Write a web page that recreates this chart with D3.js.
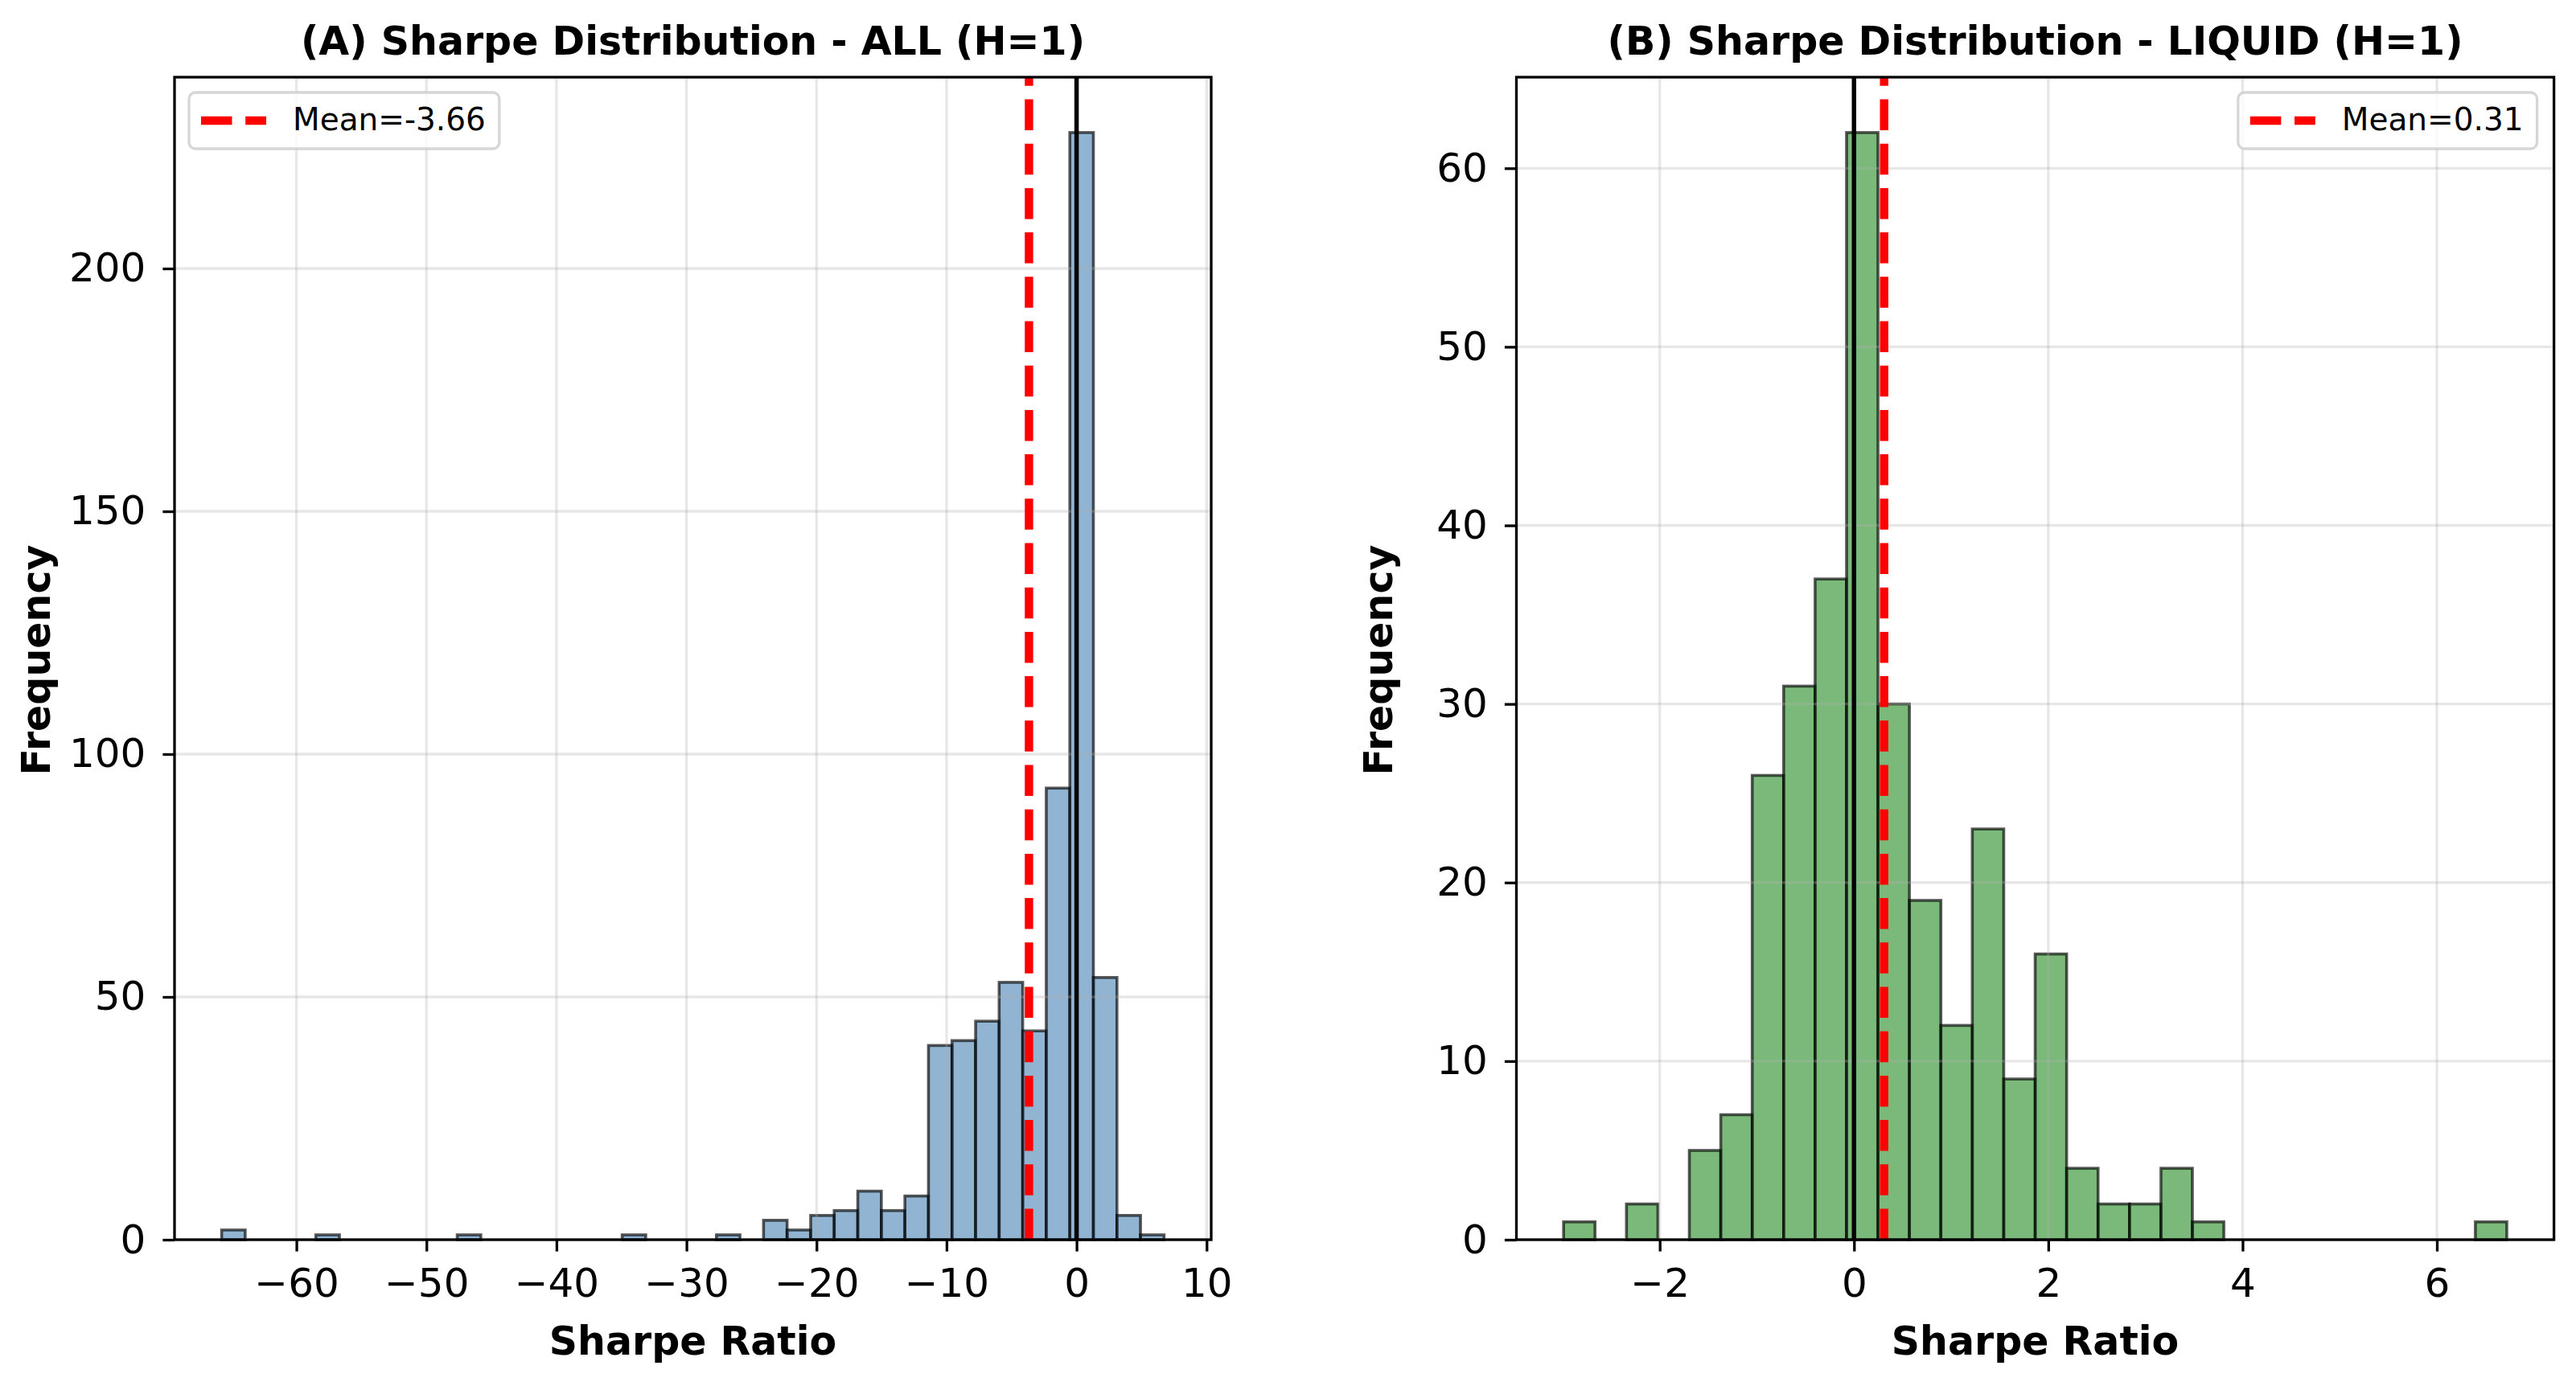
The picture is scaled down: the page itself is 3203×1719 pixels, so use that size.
<!DOCTYPE html>
<html>
<head>
<meta charset="utf-8">
<script src="https://cdn.jsdelivr.net/npm/d3@7"></script>
<style>
  html, body { margin: 0; padding: 0; background: #ffffff; }
  svg { display: block; }
</style>
</head>
<body>
<svg id="chart" width="3203" height="1719"></svg>
<script>
// ---------------- DATA ----------------
// Panel A: all assets, 40 equal-width bins
const allTitle = "(A) Sharpe Distribution - ALL (H=1)";
const allBinMin = -65.75;
const allBinMax = 6.73;
const allCounts = [2, 0, 0, 0, 1, 0, 0, 0, 0, 0, 1, 0, 0, 0, 0, 0, 0, 1, 0, 0, 0, 1, 0,
                   4, 2, 5, 6, 10, 6, 9, 40, 41, 45, 53, 43, 93, 228, 54, 5, 1];
const allMean = -3.66;
const allXTicks = [-60, -50, -40, -30, -20, -10, 0, 10];
const allYTicks = [0, 50, 100, 150, 200];

// Panel B: liquid assets, 30 equal-width bins
const liqTitle = "(B) Sharpe Distribution - LIQUID (H=1)";
const liqBinMin = -2.99;
const liqBinMax = 6.72;
const liqCounts = [1, 0, 2, 0, 5, 7, 26, 31, 37, 62, 30, 19, 12, 23, 9, 16, 4, 2, 2, 4, 1,
                   0, 0, 0, 0, 0, 0, 0, 0, 1];
const liqMean = 0.31;
const liqXTicks = [-2, 0, 2, 4, 6];
const liqYTicks = [0, 10, 20, 30, 40, 50, 60];

const xLabel = "Sharpe Ratio";
const yLabel = "Frequency";

// ---------------- DRAWING ----------------
const svg = d3.select("#chart");
const FONT = "'DejaVu Sans', 'Liberation Sans', sans-serif";

function panel(opts) {
  const { left, right, top, bottom, binMin, binMax, counts, mean, xTicks, yTicks,
          title, fill, legendSide } = opts;
  const n = counts.length;
  const bw = (binMax - binMin) / n;
  const bins = counts.map((c, i) => ({ x0: binMin + i * bw, x1: binMin + (i + 1) * bw, c }));
  const margin = (binMax - binMin) * 0.05;
  const ymax = d3.max(counts) * 1.05;

  const x = d3.scaleLinear().domain([binMin - margin, binMax + margin]).range([left, right]);
  const y = d3.scaleLinear().domain([0, ymax]).range([bottom, top]);

  const g = svg.append("g");

  // bars
  g.append("g").selectAll("rect").data(bins.filter(b => b.c > 0)).join("rect")
    .attr("x", d => x(d.x0))
    .attr("y", d => y(d.c))
    .attr("width", d => x(d.x1) - x(d.x0))
    .attr("height", d => y(0) - y(d.c))
    .attr("fill", fill)
    .attr("fill-opacity", 0.6)
    .attr("stroke", "#000")
    .attr("stroke-opacity", 0.65)
    .attr("stroke-width", 3.6);

  // grid (above bars like matplotlib default)
  const grid = g.append("g").attr("stroke", "#b0b0b0").attr("stroke-opacity", 0.3).attr("stroke-width", 3.3);
  grid.selectAll("line.gx").data(xTicks).join("line").attr("class", "gx")
    .attr("x1", d => x(d)).attr("x2", d => x(d)).attr("y1", top).attr("y2", bottom);
  grid.selectAll("line.gy").data(yTicks).join("line").attr("class", "gy")
    .attr("x1", left).attr("x2", right).attr("y1", d => y(d)).attr("y2", d => y(d));

  // zero line
  g.append("line")
    .attr("x1", x(0)).attr("x2", x(0)).attr("y1", y(0)).attr("y2", y(ymax))
    .attr("stroke", "#000").attr("stroke-width", 5.5);

  // mean line (dashed, drawn bottom->top)
  g.append("line")
    .attr("x1", x(mean)).attr("x2", x(mean)).attr("y1", y(0)).attr("y2", y(ymax))
    .attr("stroke", "#ff0000").attr("stroke-width", 10.4)
    .attr("stroke-dasharray", "38.5,16.7");

  // axes
  const xAxis = d3.axisBottom(x).tickValues(xTicks).tickSize(14.6).tickSizeOuter(0).tickPadding(21);
  const yAxis = d3.axisLeft(y).tickValues(yTicks).tickSize(14.6).tickSizeOuter(0).tickPadding(21);
  const gx = g.append("g").attr("transform", `translate(0,${bottom})`).call(xAxis);
  const gy = g.append("g").attr("transform", `translate(${left},0)`).call(yAxis);
  [gx, gy].forEach(a => {
    a.select(".domain").remove();
    a.selectAll(".tick line").attr("stroke", "#000").attr("stroke-width", 3.3);
    a.selectAll(".tick text").attr("fill", "#000").style("font-family", FONT).style("font-size", "50px");
  });

  // frame (spines)
  g.append("rect")
    .attr("x", left).attr("y", top).attr("width", right - left).attr("height", bottom - top)
    .attr("fill", "none").attr("stroke", "#000").attr("stroke-width", 3.3);

  const cx = (left + right) / 2;
  // title
  g.append("text").attr("x", cx).attr("y", 68).attr("text-anchor", "middle")
    .style("font-family", FONT).style("font-size", "49px").style("font-weight", "bold")
    .text(title);
  // x label
  g.append("text").attr("x", cx).attr("y", 1685).attr("text-anchor", "middle")
    .style("font-family", FONT).style("font-size", "49px").style("font-weight", "bold")
    .text(xLabel);
  // y label
  const cy = (top + bottom) / 2;
  g.append("text").attr("transform", `translate(${left - 155},${cy + 2}) rotate(-90)`)
    .attr("text-anchor", "middle")
    .style("font-family", FONT).style("font-size", "49px").style("font-weight", "bold")
    .text(yLabel);

  // legend
  const lg = g.append("g");
  const box = lg.append("rect");
  const handle = lg.append("line");
  const label = lg.append("text")
    .style("font-family", FONT).style("font-size", "39px").attr("fill", "#000")
    .text("Mean=" + mean.toFixed(2));
  const tw = label.node().getComputedTextLength();
  const bwid = 15 + 81 + 33 + tw + 17;
  const bx = legendSide === "left" ? left + 18 : right - 21 - bwid;
  const by = 115, bh = 70;
  box.attr("x", bx).attr("y", by).attr("width", bwid).attr("height", bh).attr("rx", 8)
    .attr("fill", "#fff").attr("fill-opacity", 0.8)
    .attr("stroke", "#cccccc").attr("stroke-opacity", 0.8).attr("stroke-width", 3.3);
  handle.attr("x1", bx + 15).attr("x2", bx + 96).attr("y1", by + 35).attr("y2", by + 35)
    .attr("stroke", "#ff0000").attr("stroke-width", 10.4).attr("stroke-dasharray", "38.5,16.7");
  label.attr("x", bx + 129).attr("y", by + 47);
}

panel({
  left: 217, right: 1506, top: 96, bottom: 1542,
  binMin: allBinMin, binMax: allBinMax, counts: allCounts, mean: allMean,
  xTicks: allXTicks, yTicks: allYTicks, title: allTitle,
  fill: "steelblue", legendSide: "left"
});

panel({
  left: 1885.5, right: 3175.6, top: 96, bottom: 1542,
  binMin: liqBinMin, binMax: liqBinMax, counts: liqCounts, mean: liqMean,
  xTicks: liqXTicks, yTicks: liqYTicks, title: liqTitle,
  fill: "forestgreen", legendSide: "right"
});
</script>
</body>
</html>
